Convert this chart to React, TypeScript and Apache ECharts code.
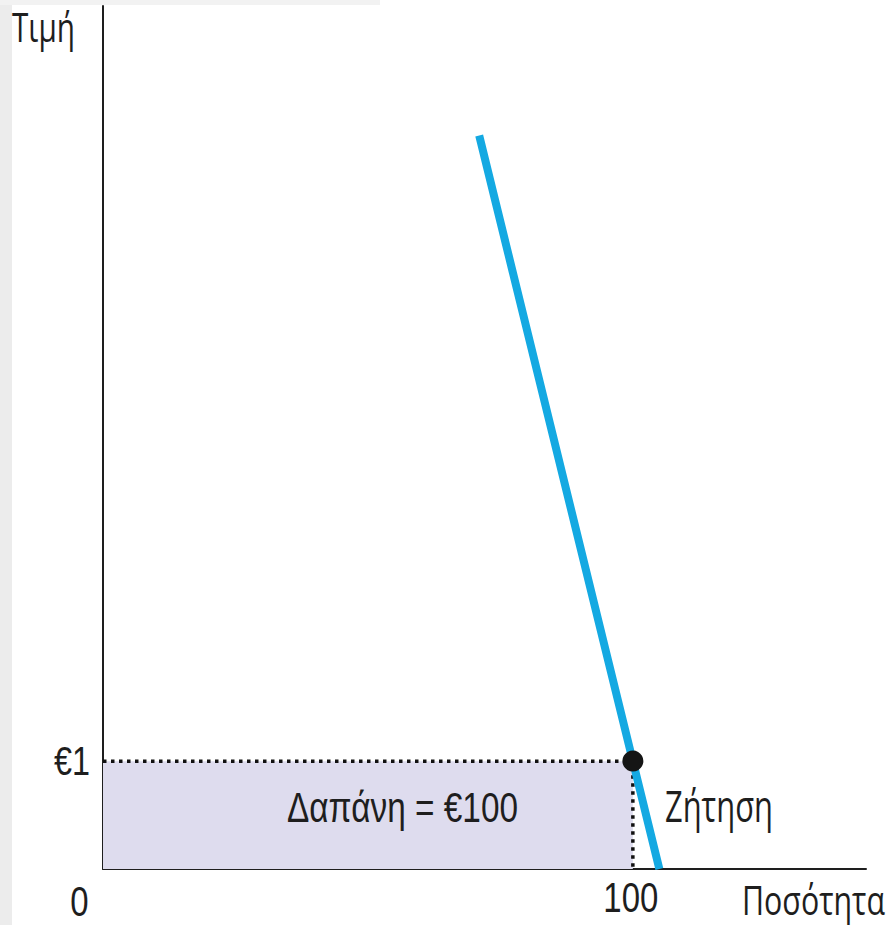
import React, { useEffect, useRef } from "react";
import * as echarts from "echarts";

const quantityMax = 144;
const priceMax = 8;
const demandQuantity = [71, 100, 105];
const demandPrice = [6.8, 1, 0];
const equilibriumQuantity = 100;
const equilibriumPrice = 1;
const xTickValues = [0, 100];
const xTickLabels = ["0", "100"];
const yTickValues = [1];
const yTickLabels = ["€1"];
const priceAxisName = "Τιμή";
const quantityAxisName = "Ποσότητα";
const demandName = "Ζήτηση";
const spendingLabel = "Δαπάνη = €100";

const SANS = "'Liberation Sans', Arial, sans-serif";
const HUM = "'Open Sans', 'Noto Sans', sans-serif";
const TEXT = "#1e1e1e";

function measure(text: string, font: string): number {
  const c = document.createElement("canvas");
  const ctx = c.getContext("2d");
  if (!ctx) return 1;
  ctx.font = font;
  return ctx.measureText(text).width || 1;
}

function label(text: string, font: string, width: number, x: number, y: number, align: string, scaleY = 1) {
  const sx = width / measure(text, font);
  return {
    type: "text",
    x,
    y,
    scaleX: sx,
    scaleY,
    z: 100,
    silent: true,
    style: { text, font, fill: TEXT, align, verticalAlign: "middle" },
  };
}

export default function App() {
  const ref = useRef<HTMLDivElement>(null);
  useEffect(() => {
    if (!ref.current) return;
    const chart = echarts.init(ref.current, undefined, { renderer: "svg" });
    const demandData = demandQuantity.map((q, i) => [q, demandPrice[i]]);
    const guideData = [
      [0, equilibriumPrice],
      [equilibriumQuantity, equilibriumPrice],
      [equilibriumQuantity, 0],
    ];
    chart.setOption({
      animation: false,
      backgroundColor: "#ffffff",
      grid: { left: 103, top: 6, right: 23, bottom: 56, containLabel: false },
      xAxis: {
        type: "value",
        min: 0,
        max: quantityMax,
        splitLine: { show: false },
        axisTick: { show: false },
        axisLabel: { show: false },
        axisLine: { onZero: false, lineStyle: { color: TEXT, width: 2 } },
      },
      yAxis: {
        type: "value",
        min: 0,
        max: priceMax,
        splitLine: { show: false },
        axisTick: { show: false },
        axisLabel: { show: false },
        axisLine: { onZero: false, lineStyle: { color: TEXT, width: 2 } },
      },
      series: [
        {
          type: "line",
          name: "guides",
          data: guideData,
          symbol: "none",
          lineStyle: { color: "#111111", width: 3.5, type: [3.5, 4.5] },
          markArea: {
            silent: true,
            itemStyle: { color: "#dedcee" },
            data: [[{ coord: [0, 0] }, { coord: [equilibriumQuantity, equilibriumPrice] }]],
          },
          z: 2,
        },
        {
          type: "line",
          name: demandName,
          data: demandData,
          symbol: "none",
          lineStyle: { color: "#14a9e2", width: 8, cap: "butt" },
          z: 3,
        },
        {
          type: "scatter",
          data: [[equilibriumQuantity, equilibriumPrice]],
          symbolSize: 21,
          itemStyle: { color: "#151515", opacity: 1 },
          z: 4,
        },
      ],
    });

    const px = (q: number, p: number) => chart.convertToPixel({ gridIndex: 0 }, [q, p]) as number[];
    const origin = px(0, 0);
    const digitFont = "42px " + SANS;
    const digitScale = 55 / measure("100", digitFont);
    const graphics: any[] = [
      { type: "rect", left: 0, top: 0, z: 1, shape: { width: 12, height: 925 }, style: { fill: "#ececec" }, silent: true },
      { type: "rect", left: 0, top: 0, z: 1, shape: { width: 380, height: 5 }, style: { fill: "#f2f2f2" }, silent: true },
      label(priceAxisName, "40px " + HUM, 63, 12, 26, "left"),
      label(quantityAxisName, "36px " + HUM, 143, 885, 899, "right", 1.1),
      label(demandName, "43px " + HUM, 108, 665, 805, "left"),
      label(spendingLabel, "42px " + SANS, 231, 287, 808, "left"),
    ];
    xTickValues.forEach((v, i) => {
      const p = px(v, 0);
      const isOrigin = v === 0;
      graphics.push({
        type: "text",
        x: isOrigin ? p[0] - 23.5 : p[0] - 2,
        y: isOrigin ? 902 : 898,
        scaleX: digitScale,
        z: 100,
        silent: true,
        style: { text: xTickLabels[i], font: digitFont, fill: TEXT, align: "center", verticalAlign: "middle" },
      });
    });
    yTickValues.forEach((v, i) => {
      const p = px(0, v);
      graphics.push(label(yTickLabels[i], "41px " + SANS, 36, origin[0] - 13, p[1], "right"));
    });
    chart.setOption({ graphic: graphics });
    return () => chart.dispose();
  }, []);
  return (
    <div
      ref={ref}
      style={{ position: "fixed", left: 0, top: 0, width: 889, height: 925 }}
    />
  );
}
